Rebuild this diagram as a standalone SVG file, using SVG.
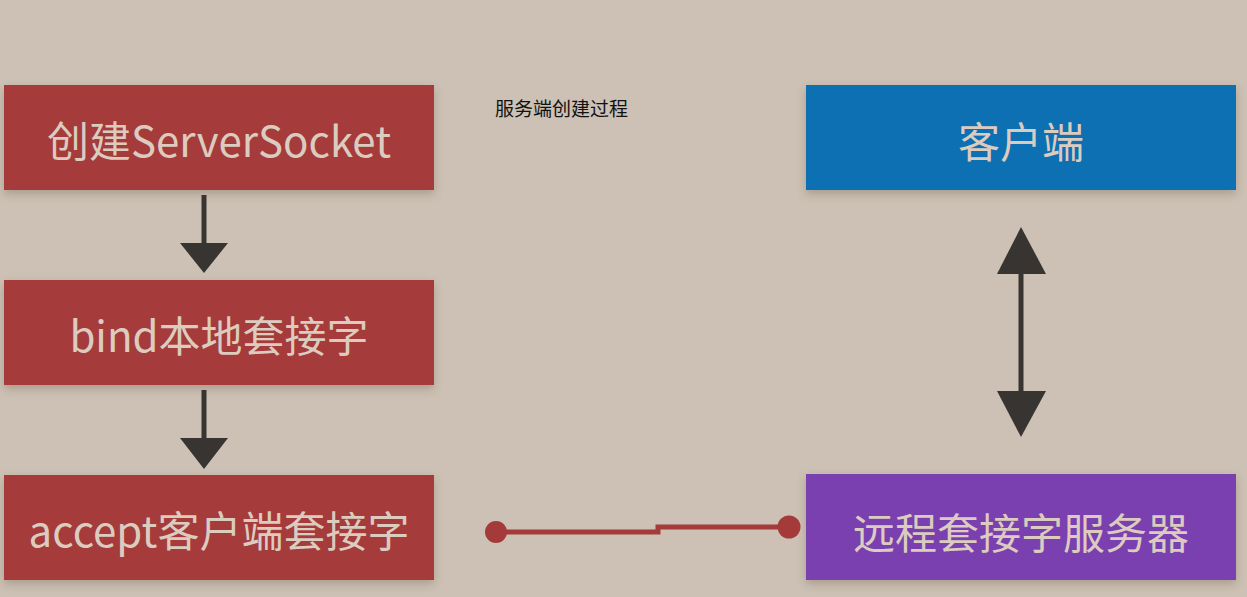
<svg xmlns="http://www.w3.org/2000/svg" width="1247" height="597" viewBox="0 0 1247 597">
<defs>
<style>
.box text{font-family:"Noto Sans CJK SC","Noto Sans",sans-serif;font-size:42px;fill:#dccbbf;text-anchor:middle;dominant-baseline:central}
.red{fill:#a53a3a}
.blue{fill:#0e6fb3}
.purple{fill:#7a41b0}
.arrow{stroke:#383431;stroke-width:5;fill:none}
.head{fill:#383431}
.link{stroke:#a53a3a;stroke-width:5;fill:none}
.dot{fill:#a53a3a}
</style>
<filter id="sh" x="-10%" y="-20%" width="120%" height="150%">
<feDropShadow dx="0" dy="4" stdDeviation="4" flood-color="#5a4a3a" flood-opacity="0.3"/>
</filter>
</defs>
<rect width="1247" height="597" fill="#ccc1b4"/>
<text x="495" y="116" font-family="'Noto Sans CJK SC','Noto Sans',sans-serif" font-size="19" fill="#111">服务端创建过程</text>
<g id="n1" class="box"><rect class="red" x="4" y="85" width="430" height="105" filter="url(#sh)"/><text x="219" y="138">创建ServerSocket</text></g>
<g id="n2" class="box"><rect class="red" x="4" y="280" width="430" height="105" filter="url(#sh)"/><text x="219" y="333">bind本地套接字</text></g>
<g id="n3" class="box"><rect class="red" x="4" y="475" width="430" height="105" filter="url(#sh)"/><text x="219" y="528">accept客户端套接字</text></g>
<g id="n4" class="box"><rect class="blue" x="806" y="85" width="430" height="105" filter="url(#sh)"/><text x="1021" y="139">客户端</text></g>
<g id="n5" class="box"><rect class="purple" x="806" y="474" width="430" height="106" filter="url(#sh)"/><text x="1021" y="530">远程套接字服务器</text></g>
<g id="connectors">
<line class="arrow" x1="204" y1="195" x2="204" y2="245"/>
<polygon class="head" points="180,243 228,243 204,273"/>
<line class="arrow" x1="204" y1="390" x2="204" y2="440"/>
<polygon class="head" points="180,438 228,438 204,469"/>
<line class="arrow" x1="1021" y1="272" x2="1021" y2="393"/>
<polygon class="head" points="997,274 1046,274 1021,227"/>
<polygon class="head" points="997,391 1046,391 1021,437"/>
<path class="link" d="M496 532 H658 V527 H789"/>
<circle class="dot" cx="496" cy="532" r="11"/>
<circle class="dot" cx="789" cy="527" r="11.5"/>
</g>
</svg>
